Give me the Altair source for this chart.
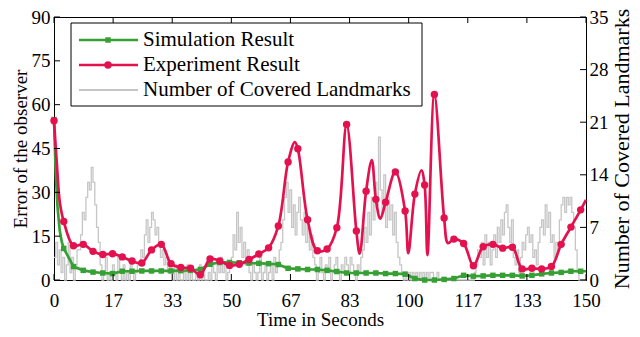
import altair as alt
import pandas as pd

# ---------------- data ----------------
legend_labels = ["Simulation Result", "Experiment Result", "Number of Covered Landmarks"]
x_title = "Time in Seconds"
y_left_title = "Error of the observer"
y_right_title = "Number of Covered Landmarks"

x_tick_values = [0, 16.667, 33.333, 50, 66.667, 83.333, 100, 116.667, 133.333, 150]
left_ticks = [0, 15, 30, 45, 60, 75, 90]
right_ticks = [0, 7, 14, 21, 28, 35]

MARKER_STEP = 2.75  # seconds between plotted markers

sim_values = [54.9, 10.8, 4.6, 3.3, 2.7, 2.4, 2.2, 3.0, 3.0, 3.1,
              3.1, 3.1, 3.1, 3.2, 3.3, 3.6, 5.4, 6.0, 6.0, 5.9,
              5.8, 5.7, 5.6, 5.3, 4.0, 3.8, 3.6, 3.6, 3.3, 2.9,
              2.4, 2.4, 2.4, 2.4, 2.2, 2.2, 2.0, 0.5, 0.0, 0.0,
              0.2, 0.5, 1.6, 1.3, 1.4, 1.6, 1.6, 1.6, 1.4, 1.6,
              2.1, 2.4, 2.6, 3.0, 3.0]
sim_end = 3.0
sim_extra_t = [0.5, 1.0, 1.6, 2.2]
sim_extra_v = [36.0, 25.0, 17.0, 13.0]

exp_values = [54.5, 20.0, 11.7, 12.2, 9.8, 8.7, 9.0, 7.9, 6.5, 5.8,
              10.3, 12.2, 5.6, 4.3, 4.0, 1.8, 7.2, 6.5, 5.0, 5.4,
              7.0, 8.9, 11.0, 18.5, 40.4, 44.9, 20.6, 10.0, 10.6, 17.9,
              53.2, 16.8, 30.4, 27.6, 26.6, 37.0, 23.6, 29.4, 32.5, 63.5,
              21.2, 14.0, 12.5, 4.9, 11.4, 12.2, 10.9, 11.2, 3.8, 4.0,
              3.8, 4.6, 12.2, 18.1, 24.0]
exp_end = 27.4
exp_extra_t = [0.9, 1.6, 67.9, 86.2, 89.6, 92.0, 99.9, 103.6, 105.3, 111.1]
exp_extra_v = [38.0, 27.0, 47.2, 9.0, 41.0, 21.0, 9.2, 37.5, 8.5, 12.6]

LANDMARK_STEP = 0.5  # seconds
landmarks = [
    3, 5, 2, 4,
    1, 3, 0, 2, 5, 1, 3, 0, 2, 4,
    4, 6, 9, 8, 11, 13, 12, 15, 13, 10, 7, 5,
    2, 0, 1, 3, 0, 1, 0, 2, 1, 0, 3, 1, 0, 2, 0, 1, 0, 2, 1, 0, 1, 2,
    2, 4, 3, 6, 8, 5, 7, 9, 8, 6, 7, 5, 3, 4, 2, 3, 1, 2,
    1, 0, 2, 0, 1, 0, 0, 1, 0, 2, 0, 1, 0, 0, 1, 0, 2, 0, 1, 0, 0, 1, 0, 2,
    1, 0, 2, 1, 3, 1, 2, 0, 1, 2,
    3, 6, 4, 9, 5, 7, 3, 5, 2, 4,
    1, 0, 2, 1, 0, 1, 3, 0, 1, 2, 0, 1, 2, 0, 3, 1, 2, 4,
    5, 8, 11, 13, 9, 12, 7, 10, 6, 9, 11, 8, 6, 9, 5, 7, 4, 6, 3,
    2, 0, 1, 3, 1, 0, 2, 1, 3, 0, 1, 2, 3, 1, 0, 2, 1, 3, 2, 1, 3, 2, 1, 0, 2, 1, 3,
    4, 7, 5, 9, 6, 11, 8, 13, 10, 19, 12, 9, 14, 7, 11, 8, 10, 6, 9, 5, 3,
    2, 1, 0, 1, 0, 1, 0, 1, 0, 1, 0, 1, 0,
    1, 0, 1, 0, 1, 1, 0, 0, 1, 0, 0, 0, 0, 0, 0, 0, 0, 0, 0, 0, 0, 0, 0, 0, 0, 0, 0, 0, 0,
    1, 2, 4, 3, 5, 2, 6, 3, 5, 2,
    4, 6, 3, 7, 5, 8, 6, 9, 10, 7,
    5, 8, 3, 2, 4, 1, 3, 5, 4, 6,
    7, 5, 6, 3, 4, 2, 5, 7, 8, 6,
    10, 7, 9, 5, 6, 3, 5, 4, 8, 10,
    11, 9, 11, 10, 11, 9, 7, 4, 1, 0,
    0, 0, 0, 0,
]

# ---------------- styling ----------------
FONT = "Liberation Serif"
RED = "#e3124f"
GREEN = "#37a034"
GRAY = "#c6c6c6"
W, H = 532, 263
TICK = 6
PAD = {"left": 46, "top": 9, "right": 46, "bottom": 49}


def series(values, end_value, extra_t, extra_v):
    rows = [{"t": MARKER_STEP * i, "v": v, "m": True} for i, v in enumerate(values)]
    rows.append({"t": 150.0, "v": end_value, "m": False})
    rows += [{"t": t, "v": v, "m": False} for t, v in zip(extra_t, extra_v)]
    return pd.DataFrame(rows).sort_values("t").reset_index(drop=True)


sim_df = series(sim_values, sim_end, sim_extra_t, sim_extra_v)
exp_df = series(exp_values, exp_end, exp_extra_t, exp_extra_v)
land_df = pd.DataFrame({"t": [LANDMARK_STEP * i for i in range(len(landmarks))],
                        "n": landmarks})
xt_df = pd.DataFrame({"v": x_tick_values})
lt_df = pd.DataFrame({"v": left_ticks})
rt_df = pd.DataFrame({"v": right_ticks})
leg_df = pd.DataFrame({"label": legend_labels, "row": [0, 1, 2]})

xs = alt.Scale(domain=[0, 150], nice=False, zero=False)
ys_left = alt.Scale(domain=[0, 90], nice=False)
ys_right = alt.Scale(domain=[0, 35], nice=False)

x_axis = alt.Axis(values=x_tick_values, format=".0f", tickSize=0, labelPadding=11,
                  labelFontSize=19, title=x_title, titleFontSize=19, titlePadding=0,
                  grid=False, labelFlush=False)
yl_axis = alt.Axis(orient="left", values=left_ticks, tickSize=0, labelPadding=4,
                   labelFontSize=19, title=y_left_title, titleFontSize=19,
                   titlePadding=1, grid=False, labelFlush=False)
yr_axis = alt.Axis(orient="right", values=right_ticks, tickSize=0, labelPadding=3,
                   labelFontSize=19, title=y_right_title, titleFontSize=22,
                   titlePadding=3, titleAngle=270, titleBaseline="top",
                   grid=False, labelFlush=False)

X = alt.X("t:Q", scale=xs, axis=x_axis)

# ---- right-scale layer (landmarks) ----
gray = alt.Chart(land_df).mark_line(interpolate="step-after", color=GRAY,
                                    strokeWidth=1.3).encode(
    x=X, y=alt.Y("n:Q", scale=ys_right, axis=yr_axis))
right_ticks_rules = alt.Chart(rt_df).mark_rule(color="black", strokeWidth=1).encode(
    y=alt.Y("v:Q", scale=ys_right, axis=yr_axis),
    x=alt.value(W - TICK), x2=alt.value(W))
layer_right = alt.layer(gray, right_ticks_rules)

# ---- left-scale layer ----
YL = alt.Y("v:Q", scale=ys_left, axis=yl_axis)
sim_line = alt.Chart(sim_df).mark_line(color=GREEN, strokeWidth=2.7).encode(x=X, y=YL)
sim_pts = alt.Chart(sim_df[sim_df.m]).mark_square(color=GREEN, size=30, opacity=1).encode(x=X, y=YL)
exp_line = alt.Chart(exp_df).mark_line(color=RED, strokeWidth=2.7,
                                       interpolate="catmull-rom").encode(x=X, y=YL)
exp_pts = alt.Chart(exp_df[exp_df.m]).mark_circle(color=RED, size=55, opacity=1).encode(x=X, y=YL)
left_tick_rules = alt.Chart(lt_df).mark_rule(color="black").encode(
    y=YL, x=alt.value(0), x2=alt.value(TICK))
bottom_tick_rules = alt.Chart(xt_df).mark_rule(color="black").encode(
    x=alt.X("v:Q", scale=xs, axis=x_axis), y=alt.value(H - TICK), y2=alt.value(H))
top_tick_rules = alt.Chart(xt_df).mark_rule(color="black").encode(
    x=alt.X("v:Q", scale=xs, axis=x_axis), y=alt.value(0), y2=alt.value(TICK))
layer_left = alt.layer(sim_line, sim_pts, exp_line, exp_pts,
                       left_tick_rules, bottom_tick_rules, top_tick_rules)

# ---- legend (drawn by hand, like the MATLAB box) ----
BX0, BX1, BY0, BY1 = 17, 368, 6, 89
ROW0, ROWSTEP = 23, 25
LX0, LX1, LXM, TX = 25, 84, 54, 89


def row(k):
    return alt.Chart(leg_df).transform_filter(alt.datum.row == k)


legend_box = row(0).mark_rect(fill="white", stroke="black", strokeWidth=1).encode(
    x=alt.value(BX0), x2=alt.value(BX1), y=alt.value(BY0), y2=alt.value(BY1))
legend_parts = [legend_box]
styles = [(GREEN, 2.7, "square", 30), (RED, 2.7, "circle", 55), (GRAY, 2.0, None, 0)]
for k, (col, sw, shp, sz) in enumerate(styles):
    yk = ROW0 + ROWSTEP * k
    legend_parts.append(row(k).mark_rule(color=col, strokeWidth=sw).encode(
        x=alt.value(LX0), x2=alt.value(LX1), y=alt.value(yk)))
    if shp:
        legend_parts.append(row(k).mark_point(shape=shp, filled=True, color=col,
                                              size=sz, opacity=1).encode(
            x=alt.value(LXM), y=alt.value(yk)))
    legend_parts.append(row(k).mark_text(align="left", baseline="middle", font=FONT,
                                         fontSize=21, color="black").encode(
        x=alt.value(TX), y=alt.value(yk), text="label:N"))
legend_layer = alt.layer(*legend_parts)

chart = alt.layer(layer_right, layer_left, legend_layer).resolve_scale(
    y="independent"
).properties(
    width=W, height=H,
    padding=PAD,
    autosize=alt.AutoSizeParams(type="none"),
).configure_view(
    stroke="black", strokeWidth=1
).configure_axis(
    domainColor="black", domainWidth=1, labelColor="black", titleColor="black",
    labelFont=FONT, titleFont=FONT, titleFontWeight="normal", grid=False
)

chart.save("out.html", embed_options={"renderer": "svg", "actions": False})
